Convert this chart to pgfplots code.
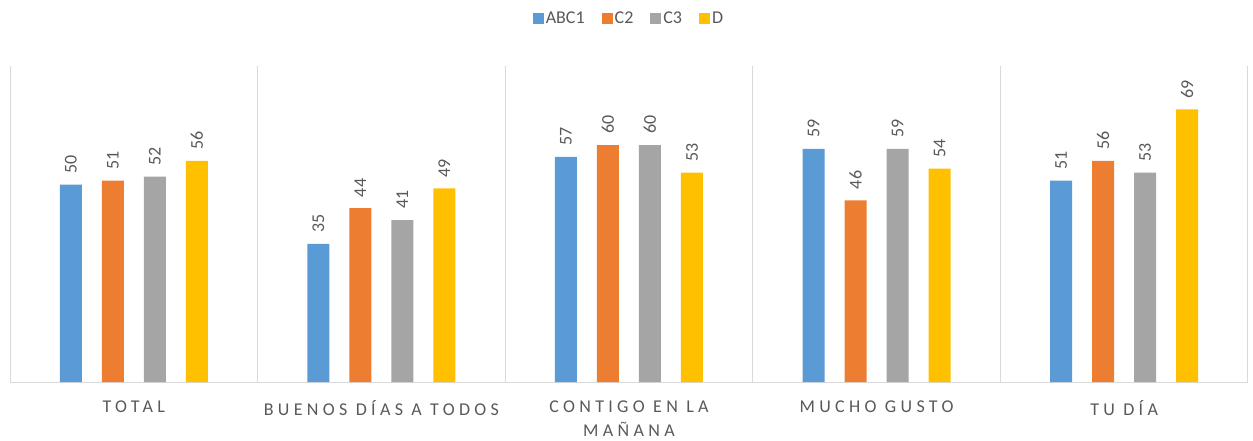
\documentclass[border=0pt]{standalone}
\usepackage{fontspec}
\setmainfont{Carlito}
\usepackage{pgfplots}
\pgfplotsset{compat=1.18}
\definecolor{cA}{HTML}{5B9BD5}
\definecolor{cB}{HTML}{ED7D31}
\definecolor{cC}{HTML}{A5A5A5}
\definecolor{cD}{HTML}{FFC000}
\definecolor{txt}{HTML}{595959}
\definecolor{grd}{HTML}{D9D9D9}
\newfontfamily\spaced[LetterSpace=24]{Carlito}
\begin{document}
\begin{tikzpicture}
\useasboundingbox (-10pt,-58pt) rectangle (1243pt,382pt);
\begin{axis}[
  scale only axis,
  width=1238pt, height=316pt,
  ybar=20pt, bar width=22pt,
  ymin=0, ymax=80,
  xmin=-0.5, xmax=4.5,
  enlargelimits=false,
  axis x line*=bottom, axis y line=none,
  x axis line style={-, draw=grd, line width=1pt},
  ytick=\empty,
  xtick={0,1,2,3,4},
  xticklabels={TOTAL, BUENOS DÍAS A TODOS, {CONTIGO EN LA\\MAÑANA}, MUCHO GUSTO, TU DÍA},
  xticklabel style={align=center, font=\spaced\fontsize{18}{24}\selectfont, text=txt, yshift=-11pt},
  minor xtick={-0.5,0.5,1.5,2.5,3.5,4.5},
  xminorgrids=true,
  minor x grid style={draw=grd, line width=1pt},
  tick style={draw=none},
  /pgf/number format/assume math mode=true,
  nodes near coords,
  nodes near coords style={rotate=90, anchor=west, inner xsep=11pt, font=\fontsize{18}{20}\selectfont, text=txt},
  legend columns=4,
  legend style={at={(0.5,1.15)}, anchor=center, draw=none, font=\fontsize{18}{20}\selectfont, text=txt,
    /tikz/every even column/.append style={column sep=15pt}},
  legend image code/.code={\fill[#1] (0pt,-5.5pt) rectangle (11pt,5.5pt);},
]
\addplot[fill=cA, draw=none] coordinates {(0,50) (1,35) (2,57) (3,59) (4,51)};
\addplot[fill=cB, draw=none] coordinates {(0,51) (1,44) (2,60) (3,46) (4,56)};
\addplot[fill=cC, draw=none] coordinates {(0,52) (1,41) (2,60) (3,59) (4,53)};
\addplot[fill=cD, draw=none] coordinates {(0,56) (1,49) (2,53) (3,54) (4,69)};
\legend{ABC1, C2, C3, D}
\end{axis}
\end{tikzpicture}
\end{document}
